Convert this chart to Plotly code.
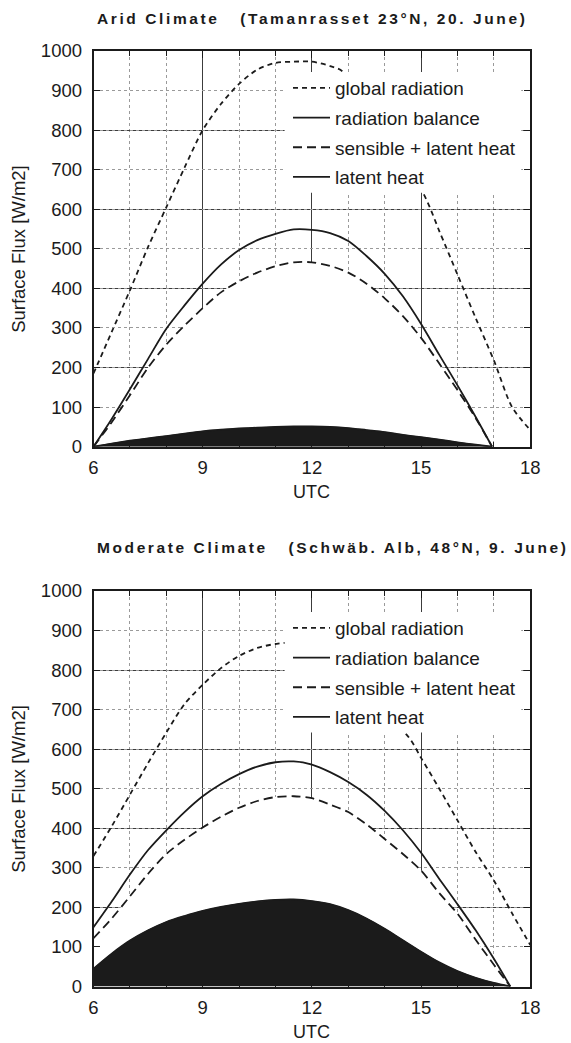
import plotly.graph_objects as go

# ---------------- data ----------------
# Arid climate (Tamanrasset 23°N, 20 June)
hours_global_arid = [6.0, 6.5, 7.0, 7.5, 8.0, 8.5, 9.0, 9.5, 10.0, 10.5, 11.0, 11.5, 12.0,
                     12.5, 12.85, 15.05, 15.5, 16.0, 16.5, 17.0, 17.5, 18.0]
global_arid = [185, 290, 395, 505, 605, 705, 800, 866, 917, 953, 970, 973, 973,
               962, 948, 642, 545, 435, 325, 218, 100, 42]

hours_arid = [6.0, 6.5, 7.0, 7.5, 8.0, 8.5, 9.0, 9.5, 10.0, 10.5, 11.0, 11.5, 12.0,
              12.5, 13.0, 13.5, 14.0, 14.5, 15.0, 15.5, 16.0, 16.5, 16.95]
balance_arid = [0, 70, 145, 222, 298, 357, 412, 460, 497, 522, 538, 549, 548,
                540, 520, 482, 437, 380, 310, 232, 155, 75, 0]
sensible_arid = [0, 62, 130, 200, 258, 306, 350, 390, 418, 440, 456, 466, 466,
                 457, 440, 412, 375, 330, 275, 210, 143, 72, 0]
latent_arid = [0, 8, 15, 21, 27, 33, 39, 43, 46, 48, 50, 51, 51,
               50, 47, 42, 37, 30, 24, 18, 11, 5, 0]

# Moderate climate (Schwäb. Alb, 48°N, 9 June)
hours_global_mod = [6.0, 6.5, 7.0, 7.5, 8.0, 8.5, 9.0, 9.5, 10.0, 10.5, 11.0, 11.35,
                    14.6, 15.0, 15.5, 16.0, 16.5, 17.0, 17.5, 18.0]
global_mod = [330, 405, 485, 565, 642, 714, 763, 805, 836, 856, 866, 867,
              637, 578, 500, 420, 340, 268, 185, 105]

hours_mod = [6.0, 6.5, 7.0, 7.5, 8.0, 8.5, 9.0, 9.5, 10.0, 10.5, 11.0, 11.5, 12.0,
             12.5, 13.0, 13.5, 14.0, 14.5, 15.0, 15.5, 16.0, 16.5, 17.0, 17.45]
balance_mod = [150, 215, 283, 345, 395, 441, 481, 512, 537, 556, 567, 569, 561,
               542, 517, 485, 444, 395, 338, 272, 208, 142, 70, 0]
sensible_mod = [122, 172, 228, 285, 335, 371, 402, 429, 452, 469, 479, 481, 476,
                460, 441, 410, 373, 335, 293, 236, 184, 118, 55, 0]
latent_mod = [45, 83, 116, 142, 163, 178, 191, 201, 209, 215, 219, 220, 216,
              208, 193, 172, 146, 117, 88, 61, 39, 22, 9, 0]

# axis ticks
x_major = [6, 9, 12, 15, 18]
x_minor = [7, 8, 10, 11, 13, 14, 16, 17]
y_ticks = [0, 100, 200, 300, 400, 500, 600, 700, 800, 900, 1000]
y_solid = [200, 400, 600, 800]

series_names = ["global radiation", "radiation balance", "sensible + latent heat", "latent heat"]
titles = ["Arid Climate   (Tamanrasset 23°N, 20. June)",
          "Moderate Climate   (Schwäb. Alb, 48°N, 9. June)"]

# ---------------- layout helpers ----------------
W, H = 571, 1043
X0, X1 = 93.5, 530.3
PANELS = [(51.0, 446.7), (591.0, 986.5)]
FONT = "Liberation Sans, Arial, Helvetica, sans-serif"
INK = "#1b1b1b"
SMOOTH = 0.8
# white backdrop behind the legend (data coordinates of each panel)
LEG_BOX = dict(x0=11.25, x1=17.75, y0=642, y1=947)


def fx(p):
    return p / W


def fy(p):
    return 1 - p / H


fig = go.Figure()


def add_panel(i, glob_h, glob, hours, bal, sens, lat):
    xa = "x" if i == 0 else "x2"
    ya = "y" if i == 0 else "y2"
    lg = "legend" if i == 0 else "legend2"
    # white area below the sensible+latent curve hides the grid there
    fig.add_trace(go.Scatter(x=hours, y=sens, xaxis=xa, yaxis=ya, mode="lines",
                             line=dict(width=0, color="white", shape="spline", smoothing=SMOOTH),
                             fill="tozeroy", fillcolor="white",
                             showlegend=False, hoverinfo="skip"))
    fig.add_trace(go.Scatter(x=hours, y=lat, xaxis=xa, yaxis=ya, mode="lines",
                             line=dict(width=1, color=INK, shape="spline", smoothing=SMOOTH),
                             fill="tozeroy", fillcolor=INK,
                             showlegend=False, hoverinfo="skip"))
    fig.add_trace(go.Scatter(x=glob_h, y=glob, xaxis=xa, yaxis=ya, mode="lines",
                             name=series_names[0], legend=lg, legendgroup=f"g{i}a",
                             line=dict(width=1.8, color=INK, dash="5px,4px",
                                       shape="spline", smoothing=SMOOTH)))
    fig.add_trace(go.Scatter(x=hours, y=bal, xaxis=xa, yaxis=ya, mode="lines",
                             name=series_names[1], legend=lg, legendgroup=f"g{i}b",
                             line=dict(width=1.8, color=INK, shape="spline", smoothing=SMOOTH)))
    fig.add_trace(go.Scatter(x=hours, y=sens, xaxis=xa, yaxis=ya, mode="lines",
                             name=series_names[2], legend=lg, legendgroup=f"g{i}c",
                             line=dict(width=1.8, color=INK, dash="9px,5px",
                                       shape="spline", smoothing=SMOOTH)))
    fig.add_trace(go.Scatter(x=hours, y=lat, xaxis=xa, yaxis=ya, mode="lines",
                             name=series_names[3], legend=lg, legendgroup=f"g{i}d",
                             line=dict(width=1.8, color=INK, shape="spline", smoothing=SMOOTH)))


add_panel(0, hours_global_arid, global_arid, hours_arid, balance_arid, sensible_arid, latent_arid)
add_panel(1, hours_global_mod, global_mod, hours_mod, balance_mod, sensible_mod, latent_mod)

tickfont = dict(family=FONT, size=18.5, color=INK)


def xaxis(i):
    return dict(domain=[fx(X0), fx(X1)], range=[6, 18], anchor="y" if i == 0 else "y2",
                tickmode="array", tickvals=x_major, ticktext=[str(v) for v in x_major],
                ticks="inside", ticklen=7, tickwidth=1.2, tickcolor=INK,
                showline=True, linecolor=INK, linewidth=1.6, mirror="allticks",
                showgrid=True, gridcolor="#3c3c3c", gridwidth=1, zeroline=False,
                tickfont=tickfont, ticklabelstandoff=3, automargin=False,
                minor=dict(tickmode="array", tickvals=x_minor, ticks="inside", ticklen=5,
                           tickwidth=1, tickcolor=INK, showgrid=True,
                           gridcolor="#9a9a9a", griddash="dot", gridwidth=1),
                fixedrange=True)


def yaxis(i):
    top, bot = PANELS[i]
    return dict(domain=[fy(bot), fy(top)], range=[0, 1000], anchor="x" if i == 0 else "x2",
                tickmode="array", tickvals=y_ticks, ticktext=[str(v) for v in y_ticks],
                ticks="inside", ticklen=7, tickwidth=1.2, tickcolor=INK,
                showline=True, linecolor=INK, linewidth=1.6, mirror="allticks",
                showgrid=True, gridcolor="#9a9a9a", griddash="dot", gridwidth=1,
                zeroline=False, tickfont=tickfont, ticklabelstandoff=6, automargin=False,
                minor=dict(tickmode="array", tickvals=y_solid, ticks="", showgrid=True,
                           gridcolor="#3c3c3c", griddash="solid", gridwidth=1),
                fixedrange=True)


annotations = []
shapes = []
title_y = [18.5, 547.5]
for i, (top, bot) in enumerate(PANELS):
    annotations.append(dict(
        text=f"<b><span style='letter-spacing:2.6px'>{titles[i]}</span></b>",
        x=fx(95), y=fy(title_y[i]), xref="paper", yref="paper",
        xanchor="left", yanchor="middle", showarrow=False,
        font=dict(family=FONT, size=15.5, color=INK)))
    annotations.append(dict(
        text="UTC", x=fx((X0 + X1) / 2), y=fy(bot + 45), xref="paper", yref="paper",
        xanchor="center", yanchor="middle", showarrow=False,
        font=dict(family=FONT, size=18, color=INK)))
    annotations.append(dict(
        text="Surface Flux [W/m2]", x=fx(19), y=fy((top + bot) / 2), xref="paper", yref="paper",
        xanchor="center", yanchor="middle", textangle=-90, showarrow=False,
        font=dict(family=FONT, size=18.5, color=INK)))
    shapes.append(dict(type="rect", xref="x" if i == 0 else "x2", yref="y" if i == 0 else "y2",
                       fillcolor="white", line=dict(width=0), layer="above", **LEG_BOX))


def legend(i):
    top, bot = PANELS[i]
    ytop = top + 18.0
    return dict(x=fx(288), y=fy(ytop), xref="paper", yref="paper",
                xanchor="left", yanchor="top", bgcolor="rgba(255,255,255,0)", borderwidth=0,
                font=dict(family=FONT, size=19, color=INK),
                itemwidth=37, tracegroupgap=2, traceorder="grouped")


fig.update_layout(
    width=W, height=H, autosize=False,
    margin=dict(l=0, r=0, t=0, b=0, pad=0, autoexpand=False),
    paper_bgcolor="white", plot_bgcolor="white",
    xaxis=xaxis(0), yaxis=yaxis(0), xaxis2=xaxis(1), yaxis2=yaxis(1),
    legend=legend(0), legend2=legend(1),
    annotations=annotations, shapes=shapes,
    showlegend=True,
    font=dict(family=FONT, color=INK),
)

fig.write_html("out.html", config={"displayModeBar": False},
               post_script="document.body.style.margin='0px';"
                           "document.body.style.overflow='hidden';")
